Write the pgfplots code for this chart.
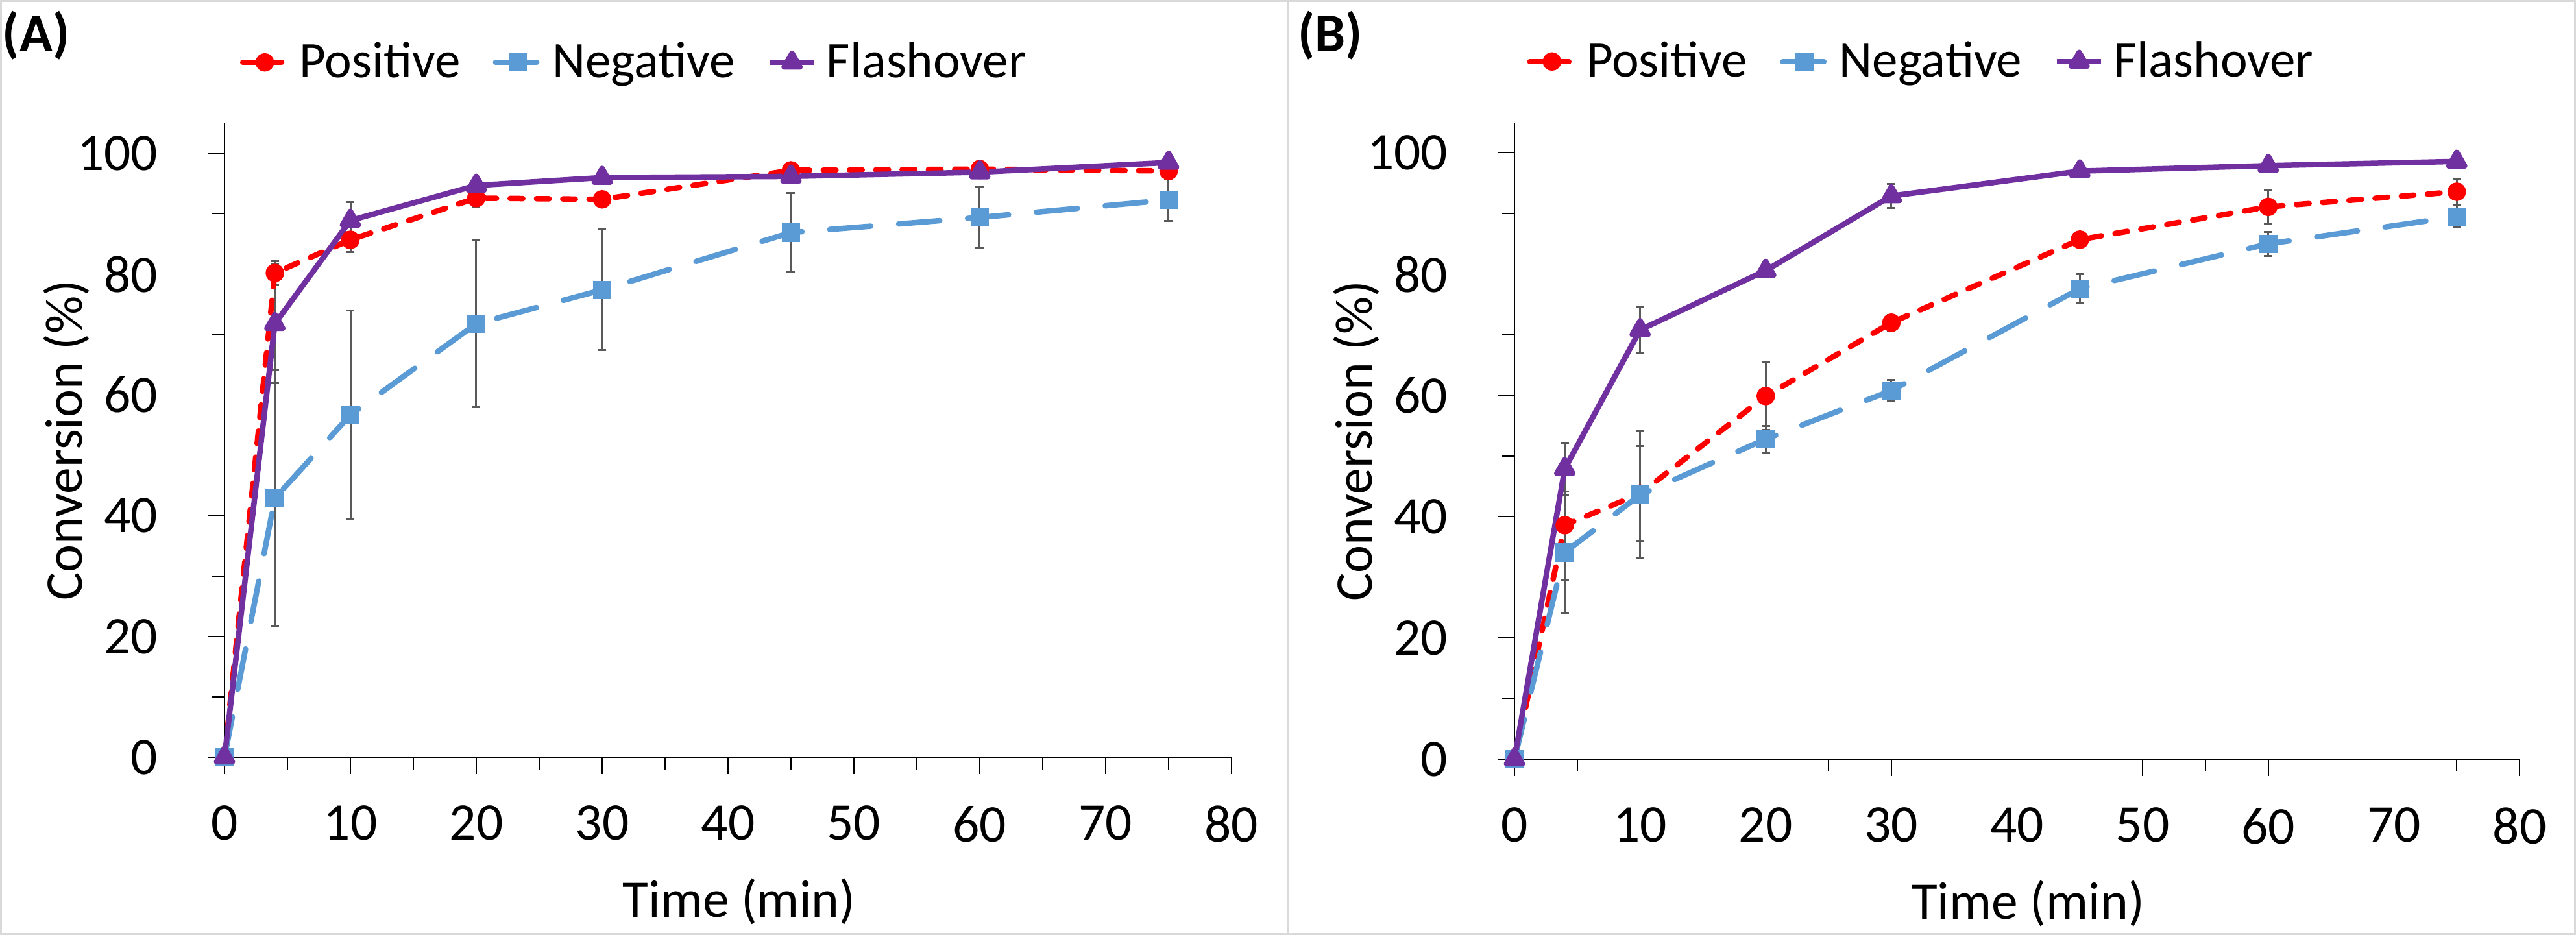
\documentclass[border=0pt]{standalone}
\usepackage{pgfplots}
\pgfplotsset{compat=1.18}
\usepackage{pgfplotstable}
\usepackage{fontspec}
\setmainfont{Carlito}
\definecolor{posred}{HTML}{FF0000}
\definecolor{negblue}{HTML}{5B9BD5}
\definecolor{flpurple}{HTML}{7030A0}
\definecolor{errgray}{HTML}{595959}
\definecolor{framegray}{HTML}{D9D9D9}

\pgfplotstableread{
t  p     pe   n     ne    f     fe
0  0     0    0     0     0     0
4  80.2  2.0  42.9  21.2  71.8  9.8
10 85.7  2.0  56.7  17.3  88.9  3.0
20 92.6  1.5  71.8  13.8  94.7  1.0
30 92.4  0.6  77.4  10.0  96.0  0.8
45 97.2  0.8  86.9  6.5   96.2  1.0
60 97.4  1.2  89.4  5.0   96.9  0.8
75 97.1  1.3  92.3  3.5   98.5  0.7
}\dataA

\pgfplotstableread{
t  p     pe   n     ne    f     fe
0  0     0    0     0     0     0
4  38.6  9.0  34.1  10.0  47.9  4.3
10 43.8  7.8  43.6  10.5  70.8  3.9
20 59.9  5.6  52.8  2.2   80.6  0.6
30 72.0  1.3  60.8  1.8   92.9  2.0
45 85.7  0.5  77.6  2.4   97.0  0.5
60 91.1  2.7  85.0  2.0   97.9  0.5
75 93.6  2.1  89.5  1.8   98.6  0.5
}\dataB

\pgfplotsset{
  panel/.style={
    scale only axis,
    xmin=0, xmax=80, ymin=0, ymax=105,
    axis lines*=left,
    axis line style={black, line width=0.3pt},
    xtick={0,10,...,80}, ytick={0,20,...,100},
    minor x tick num=1, minor y tick num=1,
    tick align=outside,
    major tick length=5.2pt, minor tick length=3.8pt,
    tick style={black, line width=0.3pt},
    every tick label/.append style={font=\fontsize{16.3}{19}\selectfont},
    /pgf/number format/assume math mode=true,
    yticklabel style={anchor=east, inner sep=0pt, xshift=-15.2pt},
    xticklabel style={anchor=north, inner sep=0pt, yshift=-9.6pt},
    label style={font=\fontsize{16.3}{19}\selectfont},
    xlabel={Time (min)}, ylabel={Conversion (\%)},
    clip=false,
    legend columns=3,
    legend style={draw=none, fill=none, anchor=center,
      font=\fontsize{15.8}{18}\selectfont, inner sep=0pt,
      /tikz/every odd column/.append style={column sep=1pt},
      /tikz/every even column/.append style={column sep=8pt}},
    legend image code/.code={\draw[mark repeat=2,mark phase=2,#1] plot coordinates {(0pt,0pt) (6.8pt,0pt) (13.6pt,0pt)};},
  },
  ebars/.style={forget plot, only marks, mark=none,
    error bars/.cd, y dir=both, y explicit,
    error bar style={draw=errgray, solid, line width=0.6pt},
    error mark options={rotate=90, mark size=1.3pt, line width=0.6pt, draw=errgray, solid}},
  posstyle/.style={color=posred, line width=1.7pt, dash pattern=on 3.9pt off 4.2pt, line cap=round, mark=*, mark size=2pt, mark options={solid}},
  negstyle/.style={color=negblue, line width=1.7pt, dash pattern=on 12.7pt off 8.6pt, line cap=round, mark=square*, mark size=2pt, mark options={solid}},
  flstyle/.style={color=flpurple, line width=1.7pt, line join=round, mark=triangle*, mark size=2.8pt, mark options={solid}},
}

\begin{document}
\begin{tikzpicture}
\useasboundingbox (0,0) rectangle (794pt,288.2pt);
\draw[framegray, line width=0.6pt] (0.3pt,0.3pt) rectangle (397pt,287.9pt);
\draw[framegray, line width=0.6pt] (397pt,0.3pt) rectangle (793.7pt,287.9pt);

\begin{axis}[panel, at={(69.2pt,54.8pt)}, anchor=south west, width=310.4pt, height=195.4pt,
  ylabel style={at={(axis description cs:-0.157,0.5)}, anchor=center},
  xlabel style={at={(axis description cs:0.511,-0.228)}, anchor=center},
  legend style={at={(axis description cs:0.409,1.096)}}]
\addplot[ebars] table[x=t, y=p, y error=pe] {\dataA};
\addplot[ebars] table[x=t, y=n, y error=ne] {\dataA};
\addplot[ebars] table[x=t, y=f, y error=fe] {\dataA};
\addplot[posstyle] table[x=t, y=p] {\dataA};
\addlegendentry{Positive}
\addplot[negstyle] table[x=t, y=n] {\dataA};
\addlegendentry{Negative}
\addplot[flstyle] table[x=t, y=f] {\dataA};
\addlegendentry{Flashover}
\end{axis}

\begin{axis}[panel, at={(466.8pt,54.2pt)}, anchor=south west, width=309.8pt, height=196.2pt,
  ylabel style={at={(axis description cs:-0.1575,0.5)}, anchor=center},
  xlabel style={at={(axis description cs:0.511,-0.227)}, anchor=center},
  legend style={at={(axis description cs:0.407,1.096)}}]
\addplot[ebars] table[x=t, y=p, y error=pe] {\dataB};
\addplot[ebars] table[x=t, y=n, y error=ne] {\dataB};
\addplot[ebars] table[x=t, y=f, y error=fe] {\dataB};
\addplot[posstyle] table[x=t, y=p] {\dataB};
\addlegendentry{Positive}
\addplot[negstyle] table[x=t, y=n] {\dataB};
\addlegendentry{Negative}
\addplot[flstyle] table[x=t, y=f] {\dataB};
\addlegendentry{Flashover}
\end{axis}

\node[anchor=west, inner sep=0pt, font=\bfseries\fontsize{16.8}{19}\selectfont] at (0.6pt,277.2pt) {(A)};
\node[anchor=west, inner sep=0pt, font=\bfseries\fontsize{16.8}{19}\selectfont] at (399.8pt,277.2pt) {(B)};
\end{tikzpicture}
\end{document}
